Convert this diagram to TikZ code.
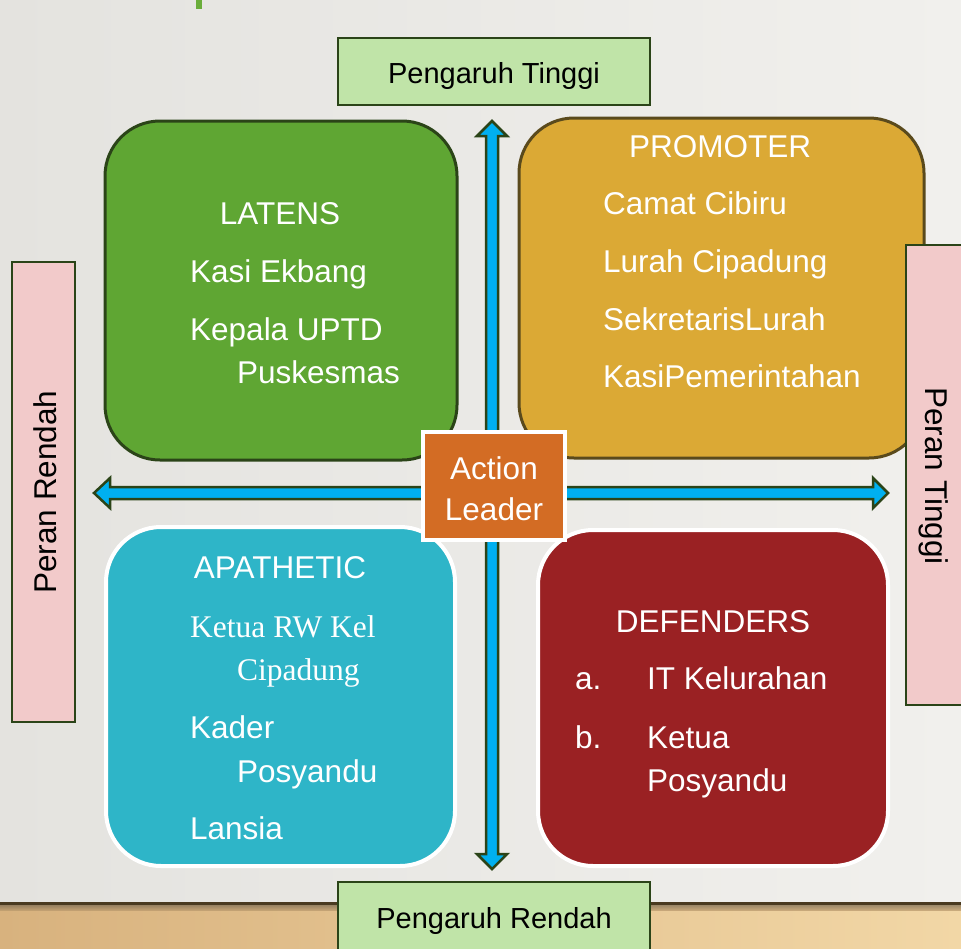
\documentclass[tikz,border=0pt]{standalone}
\usepackage{fontspec}
\setmainfont{Liberation Sans}
\newfontfamily\seriffont{Liberation Serif}
\definecolor{bgL}{HTML}{E4E3DF}
\definecolor{bgR}{HTML}{F1F0ED}
\definecolor{woodL}{HTML}{D8B27E}
\definecolor{woodR}{HTML}{F2D7A6}
\definecolor{lgreen}{HTML}{C0E4A8}
\definecolor{dgreen}{HTML}{2B4418}
\definecolor{pinkbox}{HTML}{F2CACA}
\definecolor{arrowblue}{HTML}{00B0F0}
\definecolor{latens}{HTML}{5FA633}
\definecolor{promoter}{HTML}{DBA935}
\definecolor{promborder}{HTML}{5A4A1C}
\definecolor{apathetic}{HTML}{2EB5C8}
\definecolor{defenders}{HTML}{9A2123}
\definecolor{actionc}{HTML}{D36C24}
\definecolor{titlegreen}{HTML}{6AAD3A}
\definecolor{woodedge}{HTML}{4A3A20}
\tikzset{
  labelbox/.style={draw=dgreen,line width=2.5pt,fill=lgreen},
  sidebox/.style={draw=dgreen,line width=2.5pt,fill=pinkbox},
  quad/.style={rounded corners=55pt,line width=3pt},
  dblarrow/.style={fill=arrowblue,draw=dgreen,line width=2.5pt,line join=miter},
  lbl/.style={inner sep=0pt,font=\fontsize{29}{34}\selectfont,text=black},
  wt/.style={inner sep=0pt,font=\fontsize{31.5}{37}\selectfont,text=white},
  wtserif/.style={inner sep=0pt,font=\fontsize{31.5}{37}\seriffont,text=white},
}
\begin{document}
\begin{tikzpicture}[x=1pt,y=-1pt]
\useasboundingbox (0,0) rectangle (961,948);
% background
\shade[left color=bgL,right color=bgR] (0,0) rectangle (961,948);
\shade[left color=woodL,right color=woodR] (0,903) rectangle (961,948);
\shade[top color=woodedge!80,bottom color=woodL!85!black,opacity=0.7] (0,904) rectangle (961,910);
\fill[woodedge] (0,902) rectangle (961,905);
\fill[titlegreen] (196,0) rectangle (202,9);
% top and bottom label boxes
\path[labelbox] (338,38) rectangle (650,105);
\node[lbl,anchor=base] (ptinggi) at (494,83) {Pengaruh Tinggi};
\path[labelbox] (338,882) rectangle (650,960);
\node[lbl,anchor=base] (prendah) at (494,928) {Pengaruh Rendah};
% arrows
\path[dblarrow] (492,121) -- (507,136) -- (498,136) -- (498,854) -- (507,854) -- (492,869)
  -- (477,854) -- (486,854) -- (486,136) -- (477,136) -- cycle;
\path[dblarrow] (94,493) -- (110,478) -- (110,487) -- (873,487) -- (873,478) -- (888,493)
  -- (873,508) -- (873,499) -- (110,499) -- (110,508) -- cycle;
% quadrants
\path[quad,fill=latens,draw=dgreen] (105,121) rectangle (457,460);
\path[quad,fill=promoter,draw=promborder] (519,118) rectangle (924,458);
\path[quad,fill=apathetic,draw=white,line width=4pt] (106,527) rectangle (455,866);
\path[quad,fill=defenders,draw=white,line width=4pt] (538,530) rectangle (888,866);
% side boxes
\path[sidebox] (12,262) rectangle (75,722);
\node[wt,text=black,anchor=base,rotate=90] (perR) at (56,492) {Peran Rendah};
\path[sidebox] (906,245) rectangle (975,705);
\node[wt,text=black,anchor=base,rotate=-90] (perT) at (925,476) {Peran Tinggi};
% LATENS
\node[wt,anchor=base] (latT) at (280,224) {LATENS};
\node[wt,anchor=base west] (lat1) at (190,282) {Kasi Ekbang};
\node[wt,anchor=base west] (lat2) at (190,340) {Kepala UPTD};
\node[wt,anchor=base west] (lat3) at (237,383) {Puskesmas};
% PROMOTER
\node[wt,anchor=base] (proT) at (720,157) {PROMOTER};
\node[wt,anchor=base west] (pro1) at (603,214) {Camat Cibiru};
\node[wt,anchor=base west] (pro2) at (603,272) {Lurah Cipadung};
\node[wt,anchor=base west] (pro3) at (603,330) {SekretarisLurah};
\node[wt,anchor=base west] (pro4) at (603,387) {KasiPemerintahan};
% APATHETIC
\node[wt,anchor=base] (apaT) at (280,578) {APATHETIC};
\node[wtserif,anchor=base west] (apa1) at (190,637) {Ketua RW Kel};
\node[wtserif,anchor=base west] (apa2) at (237,680) {Cipadung};
\node[wt,anchor=base west] (apa3) at (190,738) {Kader};
\node[wt,anchor=base west] (apa4) at (237,782) {Posyandu};
\node[wt,anchor=base west] (apa5) at (190,839) {Lansia};
% DEFENDERS
\node[wt,anchor=base] (defT) at (713,632) {DEFENDERS};
\node[wt,anchor=base west] (defa) at (575,689) {a.};
\node[wt,anchor=base west] (def1) at (647,689) {IT Kelurahan};
\node[wt,anchor=base west] (defb) at (575,748) {b.};
\node[wt,anchor=base west] (def2) at (647,748) {Ketua};
\node[wt,anchor=base west] (def3) at (647,791) {Posyandu};
% Action Leader
\path[fill=actionc,draw=white,line width=4pt] (423,432) rectangle (565,540);
\node[wt,anchor=base] (act1) at (494,479) {Action};
\node[wt,anchor=base] (act2) at (494,520) {Leader};
\end{tikzpicture}
\end{document}
